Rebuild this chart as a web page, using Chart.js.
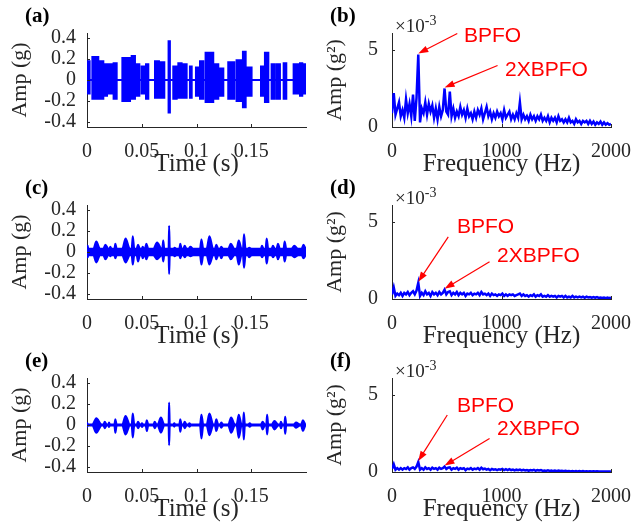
<!DOCTYPE html>
<html>
<head>
<meta charset="utf-8">
<script src="https://cdn.jsdelivr.net/npm/chart.js"></script>
<style>
    body { margin: 0; background: #fff; width: 631px; height: 523px; position: relative; overflow: hidden; }
    .panel { position: absolute; }
    .lbl { position: absolute; font: bold 21px "Liberation Serif", serif; color: #000; line-height: 1; }
    .exp { position: absolute; font: 19px "Liberation Serif", serif; color: #262626; line-height: 1; white-space: nowrap; }
    .exp sup { font-size: 14px; }
    .note { position: absolute; font: 21px "Liberation Sans", Arial, sans-serif; color: #ff0000; line-height: 1; white-space: nowrap; }
</style>
</head>
<body>
<div class="panel" style="left:0;top:0"><canvas id="pa" width="315" height="177"></canvas></div>
<div class="panel" style="left:310px;top:0"><canvas id="pb" width="321" height="177"></canvas></div>
<div class="panel" style="left:0;top:172px"><canvas id="pc" width="315" height="177"></canvas></div>
<div class="panel" style="left:310px;top:172px"><canvas id="pd" width="321" height="177"></canvas></div>
<div class="panel" style="left:0;top:345px"><canvas id="pe" width="315" height="177"></canvas></div>
<div class="panel" style="left:310px;top:345px"><canvas id="pf" width="321" height="177"></canvas></div>

<div class="lbl" style="left:25px;top:5px">(a)</div>
<div class="lbl" style="left:330px;top:5px">(b)</div>
<div class="lbl" style="left:25px;top:177px">(c)</div>
<div class="lbl" style="left:330px;top:177px">(d)</div>
<div class="lbl" style="left:25px;top:350px">(e)</div>
<div class="lbl" style="left:330px;top:350px">(f)</div>

<div class="exp" style="left:395px;top:14px">×10<sup>-3</sup></div>
<div class="exp" style="left:395px;top:186px">×10<sup>-3</sup></div>
<div class="exp" style="left:395px;top:359px">×10<sup>-3</sup></div>

<div class="note" style="left:464px;top:24px">BPFO</div>
<div class="note" style="left:505px;top:58px">2XBPFO</div>
<div class="note" style="left:457px;top:215px">BPFO</div>
<div class="note" style="left:497px;top:244px">2XBPFO</div>
<div class="note" style="left:457px;top:394px">BPFO</div>
<div class="note" style="left:497px;top:417px">2XBPFO</div>

<script>
document.addEventListener('DOMContentLoaded', function () {
    const blue = '#0000ff';
    const axisColor = '#262626';
    const serif = '"Liberation Serif", "Times New Roman", serif';

    // tick labels
    const timeTicks = [0, 0.05, 0.1, 0.15];
    const ampTicks = [-0.4, -0.2, 0, 0.2, 0.4];
    const freqTicks = [0, 1000, 2000];
    const psdTicks = [0, 5];

    // (a) bursts as [start (s), end (s), max (g), min (g)]
    const baseA = 0;
    const burstsA = [
        [0.0000, 0.0024, 0.18, -0.13], [0.0049, 0.0103, 0.22, -0.18], [0.0103, 0.0149, 0.18, -0.18],
        [0.0158, 0.0183, 0.15, -0.15], [0.0201, 0.0225, 0.15, -0.13], [0.0243, 0.0271, 0.16, -0.18],
        [0.0323, 0.0393, 0.21, -0.20], [0.0408, 0.0438, 0.23, -0.18], [0.0453, 0.0478, 0.15, -0.15],
        [0.0499, 0.0523, 0.13, -0.13], [0.0539, 0.0560, 0.15, -0.18], [0.0621, 0.0657, 0.18, -0.17],
        [0.0666, 0.0706, 0.17, -0.17], [0.0745, 0.0757, 0.37, -0.31], [0.0788, 0.0819, 0.13, -0.18],
        [0.0834, 0.0864, 0.16, -0.17], [0.0880, 0.0910, 0.15, -0.17], [0.0940, 0.0956, 0.13, -0.17],
        [0.0995, 0.1016, 0.12, -0.15], [0.1032, 0.1062, 0.18, -0.18], [0.1083, 0.1153, 0.26, -0.21],
        [0.1169, 0.1199, 0.15, -0.18], [0.1214, 0.1245, 0.11, -0.15], [0.1290, 0.1345, 0.17, -0.18],
        [0.1366, 0.1412, 0.19, -0.20], [0.1424, 0.1449, 0.27, -0.26], [0.1467, 0.1503, 0.12, -0.15],
        [0.1589, 0.1613, 0.13, -0.15], [0.1625, 0.1656, 0.26, -0.21], [0.1686, 0.1716, 0.15, -0.18],
        [0.1735, 0.1762, 0.15, -0.18], [0.1796, 0.1820, 0.16, -0.18], [0.1887, 0.1929, 0.15, -0.13],
        [0.1945, 0.1966, 0.16, -0.15], [0.1975, 0.2000, 0.15, -0.13]
    ];

    // (c), (e) bursts as [start (s), peak (s), end (s), max (g), min (g)]
    const baseC = 0.03;
    const burstsC = [
        [0.0000, 0.0006, 0.0012, 0.06, -0.05], [0.0058, 0.0085, 0.0119, 0.10, -0.10],
        [0.0149, 0.0168, 0.0195, 0.07, -0.07], [0.0204, 0.0213, 0.0225, 0.05, -0.04],
        [0.0250, 0.0259, 0.0271, 0.08, -0.06], [0.0322, 0.0352, 0.0392, 0.13, -0.10],
        [0.0408, 0.0418, 0.0432, 0.15, -0.12], [0.0453, 0.0466, 0.0484, 0.07, -0.09],
        [0.0499, 0.0509, 0.0523, 0.05, -0.06], [0.0529, 0.0542, 0.0560, 0.08, -0.07],
        [0.0606, 0.0640, 0.0682, 0.09, -0.07], [0.0688, 0.0696, 0.0706, 0.11, -0.09],
        [0.0745, 0.0750, 0.0756, 0.25, -0.21], [0.0788, 0.0800, 0.0818, 0.04, -0.04],
        [0.0843, 0.0852, 0.0864, 0.08, -0.06], [0.0879, 0.0892, 0.0910, 0.06, -0.05],
        [0.0925, 0.0945, 0.0971, 0.05, -0.04], [0.1032, 0.1045, 0.1062, 0.12, -0.12],
        [0.1092, 0.1118, 0.1153, 0.15, -0.12], [0.1168, 0.1181, 0.1199, 0.07, -0.07],
        [0.1214, 0.1226, 0.1244, 0.05, -0.06], [0.1290, 0.1313, 0.1345, 0.08, -0.07],
        [0.1366, 0.1386, 0.1412, 0.11, -0.12], [0.1424, 0.1434, 0.1448, 0.17, -0.15],
        [0.1467, 0.1482, 0.1503, 0.04, -0.05], [0.1588, 0.1598, 0.1613, 0.06, -0.05],
        [0.1631, 0.1641, 0.1655, 0.13, -0.11], [0.1686, 0.1698, 0.1716, 0.06, -0.05],
        [0.1731, 0.1744, 0.1762, 0.08, -0.07], [0.1795, 0.1805, 0.1820, 0.10, -0.09],
        [0.1868, 0.1893, 0.1929, 0.06, -0.05], [0.1960, 0.1977, 0.2000, 0.07, -0.06]
    ];

    const baseE = 0.004;
    const burstsE = [
        [0.0000, 0.0003, 0.0006, 0.020, -0.015], [0.0049, 0.0085, 0.0134, 0.065, -0.075],
        [0.0149, 0.0162, 0.0180, 0.030, -0.030], [0.0195, 0.0201, 0.0210, 0.025, -0.020],
        [0.0250, 0.0259, 0.0271, 0.055, -0.075], [0.0322, 0.0352, 0.0392, 0.087, -0.090],
        [0.0408, 0.0418, 0.0432, 0.110, -0.120], [0.0453, 0.0466, 0.0484, 0.030, -0.030],
        [0.0493, 0.0502, 0.0514, 0.016, -0.020], [0.0536, 0.0546, 0.0560, 0.045, -0.058],
        [0.0606, 0.0618, 0.0636, 0.030, -0.030], [0.0645, 0.0675, 0.0706, 0.071, -0.074],
        [0.0745, 0.0750, 0.0756, 0.216, -0.194], [0.0788, 0.0797, 0.0809, 0.016, -0.016],
        [0.0843, 0.0852, 0.0864, 0.055, -0.065], [0.0879, 0.0892, 0.0910, 0.030, -0.030],
        [0.0925, 0.0935, 0.0949, 0.016, -0.016], [0.1032, 0.1045, 0.1062, 0.097, -0.129],
        [0.1092, 0.1118, 0.1153, 0.110, -0.097], [0.1168, 0.1181, 0.1199, 0.055, -0.058],
        [0.1214, 0.1226, 0.1244, 0.023, -0.026], [0.1290, 0.1316, 0.1351, 0.071, -0.074],
        [0.1366, 0.1386, 0.1412, 0.097, -0.123], [0.1424, 0.1432, 0.1442, 0.120, -0.139],
        [0.1473, 0.1486, 0.1503, 0.016, -0.016], [0.1588, 0.1604, 0.1625, 0.030, -0.042],
        [0.1637, 0.1645, 0.1655, 0.097, -0.090], [0.1686, 0.1712, 0.1747, 0.039, -0.042],
        [0.1762, 0.1771, 0.1783, 0.032, -0.032], [0.1802, 0.1810, 0.1820, 0.078, -0.084],
        [0.1884, 0.1910, 0.1945, 0.023, -0.026], [0.1954, 0.1972, 0.1996, 0.045, -0.058]
    ];

    // envelope spectra, one value per 16 Hz bin from 0 to 2000 Hz, in units of 1e-3 g^2
    const freqStep = 16;
    const specB = [
        0.9, 2.2, 0.8, 1.2, 1.6, 0.7, 1.1, 0.6, 1.8, 0.9,
        1.5, 0.7, 2.1, 0.4, 1.9, 4.7, 0.3, 1.2, 0.9, 1.6,
        0.8, 1.5, 1.0, 1.4, 0.6, 1.2, 0.5, 1.3, 0.7, 1.1,
        2.5, 1.0, 0.8, 2.3, 0.7, 1.2, 0.6, 1.0, 0.7, 1.3,
        0.8, 1.1, 0.6, 1.2, 0.7, 0.9, 0.5, 1.0, 0.6, 1.1,
        0.8, 1.2, 0.5, 0.9, 1.3, 0.7, 1.0, 0.5, 0.9, 0.6,
        1.0, 0.7, 0.9, 0.5, 1.1, 0.6, 0.8, 1.0, 0.5, 0.8,
        0.5, 0.9, 0.6, 1.6, 0.5, 0.8, 0.5, 0.7, 0.4, 0.8,
        0.5, 0.7, 0.4, 0.7, 0.5, 0.8, 0.4, 0.6, 0.4, 0.7,
        0.3, 0.6, 0.4, 0.6, 0.3, 0.7, 0.4, 0.5, 0.3, 0.5,
        0.3, 0.6, 0.3, 0.4, 0.2, 0.5, 0.3, 0.4, 0.2, 0.4,
        0.3, 0.4, 0.2, 0.4, 0.2, 0.35, 0.15, 0.3, 0.2, 0.35,
        0.15, 0.3, 0.15, 0.25, 0.15, 0.2
    ];
    const specD = [
        0.3, 0.75, 0.2, 0.35, 0.25, 0.4, 0.2, 0.4, 0.3, 0.45,
        0.25, 0.4, 0.5, 0.3, 0.55, 1.05, 0.2, 0.4, 0.25, 0.5,
        0.3, 0.4, 0.2, 0.45, 0.3, 0.4, 0.25, 0.45, 0.3, 0.4,
        0.6, 0.3, 0.45, 0.5, 0.25, 0.4, 0.3, 0.45, 0.25, 0.4,
        0.3, 0.4, 0.2, 0.35, 0.3, 0.4, 0.25, 0.35, 0.3, 0.4,
        0.25, 0.45, 0.3, 0.35, 0.25, 0.35, 0.2, 0.35, 0.25, 0.3,
        0.2, 0.3, 0.25, 0.35, 0.2, 0.3, 0.2, 0.3, 0.25, 0.3,
        0.2, 0.25, 0.3, 0.35, 0.2, 0.3, 0.2, 0.25, 0.15, 0.25,
        0.2, 0.3, 0.15, 0.25, 0.2, 0.3, 0.15, 0.2, 0.15, 0.25,
        0.15, 0.2, 0.15, 0.2, 0.1, 0.2, 0.15, 0.2, 0.1, 0.2,
        0.1, 0.15, 0.1, 0.2, 0.1, 0.15, 0.1, 0.15, 0.1, 0.15,
        0.08, 0.15, 0.1, 0.12, 0.08, 0.12, 0.08, 0.12, 0.07, 0.1,
        0.07, 0.1, 0.06, 0.1, 0.06, 0.08
    ];
    const specF = [
        0.2, 0.5, 0.15, 0.25, 0.15, 0.25, 0.15, 0.25, 0.2, 0.3,
        0.15, 0.25, 0.3, 0.2, 0.35, 0.65, 0.15, 0.25, 0.15, 0.3,
        0.2, 0.25, 0.15, 0.28, 0.2, 0.25, 0.15, 0.28, 0.2, 0.25,
        0.35, 0.2, 0.28, 0.3, 0.15, 0.25, 0.2, 0.28, 0.15, 0.25,
        0.2, 0.25, 0.12, 0.22, 0.18, 0.25, 0.15, 0.22, 0.18, 0.25,
        0.15, 0.28, 0.18, 0.22, 0.15, 0.2, 0.12, 0.2, 0.15, 0.18,
        0.12, 0.18, 0.15, 0.2, 0.12, 0.18, 0.12, 0.18, 0.12, 0.16,
        0.1, 0.15, 0.12, 0.16, 0.1, 0.14, 0.1, 0.13, 0.08, 0.13,
        0.1, 0.14, 0.08, 0.12, 0.1, 0.13, 0.07, 0.1, 0.07, 0.11,
        0.07, 0.1, 0.06, 0.09, 0.05, 0.09, 0.06, 0.08, 0.05, 0.08,
        0.05, 0.07, 0.04, 0.07, 0.04, 0.06, 0.04, 0.06, 0.04, 0.06,
        0.04, 0.05, 0.03, 0.05, 0.03, 0.05, 0.03, 0.05, 0.03, 0.04,
        0.03, 0.04, 0.03, 0.04, 0.03, 0.04
    ];

    // inward tick marks and red arrows
    const decor = {
        id: 'decor',
        afterDraw(chart, args, opts) {
            const { ctx, chartArea: a, scales: { x, y } } = chart;
            ctx.save();
            ctx.strokeStyle = axisColor;
            ctx.lineWidth = 1;
            ctx.beginPath();
            x.ticks.forEach(t => {
                const px = Math.round(x.getPixelForValue(t.value)) + 0.5;
                ctx.moveTo(px, a.bottom);
                ctx.lineTo(px, a.bottom - 3);
            });
            y.ticks.forEach(t => {
                const py = Math.round(y.getPixelForValue(t.value)) + 0.5;
                ctx.moveTo(a.left, py);
                ctx.lineTo(a.left + 3, py);
            });
            ctx.stroke();

            (opts.arrows || []).forEach(ar => {
                const tx = x.getPixelForValue(ar.x);
                const ty = y.getPixelForValue(ar.y) - 1;
                const sx = tx + ar.dx, sy = ty + ar.dy;
                const ang = Math.atan2(ty - sy, tx - sx);
                ctx.strokeStyle = '#ff0000';
                ctx.fillStyle = '#ff0000';
                ctx.lineWidth = 1.2;
                ctx.beginPath();
                ctx.moveTo(sx, sy);
                ctx.lineTo(tx - 6 * Math.cos(ang), ty - 6 * Math.sin(ang));
                ctx.stroke();
                ctx.beginPath();
                ctx.moveTo(tx, ty);
                ctx.lineTo(tx - 10 * Math.cos(ang) + 3.5 * Math.sin(ang), ty - 10 * Math.sin(ang) - 3.5 * Math.cos(ang));
                ctx.lineTo(tx - 10 * Math.cos(ang) - 3.5 * Math.sin(ang), ty - 10 * Math.sin(ang) + 3.5 * Math.cos(ang));
                ctx.closePath();
                ctx.fill();
            });
            ctx.restore();
        }
    };

    // rectangular bursts for (a)
    function boxEnvelope(bursts, base, col) {
        const b0 = col === 2 ? base : -base;
        const pts = [{ x: 0, y: b0 }];
        bursts.forEach(b => {
            pts.push({ x: b[0], y: b[col] });
            pts.push({ x: b[1], y: b0 });
        });
        pts.push({ x: 0.2, y: b0 });
        return pts;
    }

    // spindle bursts for (c), (e)
    function peakEnvelope(bursts, base, col) {
        const b0 = col === 3 ? base : -base;
        const pts = [{ x: 0, y: b0 }];
        bursts.forEach(b => {
            pts.push({ x: b[0], y: b0 });
            pts.push({ x: b[1], y: b[col] });
            pts.push({ x: b[2], y: b0 });
        });
        pts.push({ x: 0.2, y: b0 });
        return pts;
    }

    function axisOptions(cfg) {
        return {
            x: {
                type: 'linear',
                min: cfg.xMin, max: cfg.xMax,
                grid: { display: false, drawTicks: false },
                border: { display: true, color: axisColor, width: 1 },
                afterBuildTicks: s => { s.ticks = cfg.xTicks.map(v => ({ value: v })); },
                afterFit: s => { s.height = 50; s.paddingLeft = 0; s.paddingRight = 0; },
                ticks: {
                    color: axisColor, padding: 13, maxRotation: 0, autoSkip: false,
                    font: { family: serif, size: 20 },
                    callback: v => String(v)
                },
                title: {
                    display: true, text: cfg.xTitle, color: axisColor,
                    font: { family: serif, size: 25, lineHeight: 1 },
                    padding: { top: 0, bottom: 0 }
                }
            },
            y: {
                type: 'linear',
                min: cfg.yMin, max: cfg.yMax,
                grid: { display: false, drawTicks: false },
                border: { display: true, color: axisColor, width: 1 },
                afterBuildTicks: s => { s.ticks = cfg.yTicks.map(v => ({ value: v })); },
                afterFit: s => { s.width = cfg.yWidth; s.paddingTop = 0; s.paddingBottom = 0; },
                ticks: {
                    color: axisColor, padding: cfg.yTickPad, autoSkip: false,
                    font: { family: serif, size: 20 },
                    callback: v => String(v)
                },
                title: {
                    display: true, text: cfg.yTitle, color: axisColor,
                    font: { family: serif, size: 22, lineHeight: 1 },
                    padding: { top: cfg.yTitlePad, bottom: 0 }
                }
            }
        };
    }

    function timePanel(id, upper, lower, smooth) {
        const line = {
            borderColor: blue, backgroundColor: blue, borderWidth: 2, pointRadius: 0,
            stepped: !smooth, cubicInterpolationMode: smooth ? 'monotone' : 'default', tension: 0
        };
        new Chart(document.getElementById(id), {
            type: 'line',
            data: {
                datasets: [
                    Object.assign({ data: upper, fill: '+1' }, line),
                    Object.assign({ data: lower, fill: false }, line)
                ]
            },
            options: {
                responsive: false,
                animation: false,
                layout: { padding: { top: 33, left: 0, right: 9, bottom: 0 } },
                plugins: { legend: { display: false }, tooltip: { enabled: false }, decor: {} },
                scales: axisOptions({
                    xMin: 0, xMax: 0.2, xTicks: timeTicks, xTitle: 'Time (s)',
                    yMin: -0.45, yMax: 0.45, yTicks: ampTicks, yTitle: 'Amp (g)',
                    yWidth: 87, yTitlePad: 9, yTickPad: 11
                })
            },
            plugins: [decor]
        });
    }

    function specPanel(id, spec, arrows) {
        new Chart(document.getElementById(id), {
            type: 'line',
            data: {
                datasets: [{
                    data: spec.map((v, i) => ({ x: i * freqStep, y: v })),
                    borderColor: blue, borderWidth: 2.5, pointRadius: 0, tension: 0, fill: false
                }]
            },
            options: {
                responsive: false,
                animation: false,
                layout: { padding: { top: 33, left: 0, right: 20, bottom: 0 } },
                plugins: { legend: { display: false }, tooltip: { enabled: false }, decor: { arrows: arrows } },
                scales: axisOptions({
                    xMin: 0, xMax: 2000, xTicks: freqTicks, xTitle: 'Frequency (Hz)',
                    yMin: 0, yMax: 6.1, yTicks: psdTicks, yTitle: 'Amp (g²)',
                    yWidth: 82, yTitlePad: 14, yTickPad: 14
                })
            },
            plugins: [decor]
        });
    }

    timePanel('pa', boxEnvelope(burstsA, baseA, 2), boxEnvelope(burstsA, baseA, 3), false);
    timePanel('pc', peakEnvelope(burstsC, baseC, 3), peakEnvelope(burstsC, baseC, 4), true);
    timePanel('pe', peakEnvelope(burstsE, baseE, 3), peakEnvelope(burstsE, baseE, 4), true);

    specPanel('pb', specB, [
        { x: 240, y: 4.7, dx: 39, dy: -20 },
        { x: 480, y: 2.5, dx: 53, dy: -22 }
    ]);
    specPanel('pd', specD, [
        { x: 240, y: 1.05, dx: 30, dy: -45 },
        { x: 480, y: 0.6, dx: 45, dy: -27 }
    ]);
    specPanel('pf', specF, [
        { x: 240, y: 0.65, dx: 29, dy: -46 },
        { x: 480, y: 0.35, dx: 45, dy: -27 }
    ]);
});
</script>
</body>
</html>
